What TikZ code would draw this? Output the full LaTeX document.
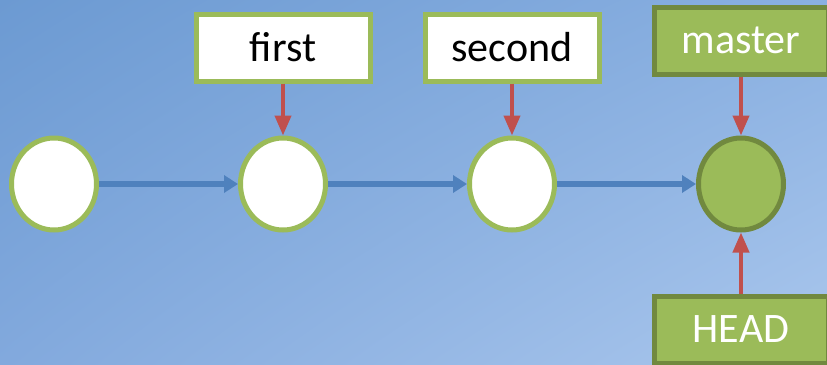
\documentclass[tikz,border=0pt]{standalone}
\usepackage{fontspec}
\setmainfont{Carlito}
\usepackage{xcolor}
\usetikzlibrary{arrows.meta, positioning, shapes.geometric, shadings}

\definecolor{bgtl}{RGB}{108,154,210}
\definecolor{bgtr}{RGB}{138,176,225}
\definecolor{bgbl}{RGB}{130,169,221}
\definecolor{bgbr}{RGB}{170,199,237}
\definecolor{okgreen}{RGB}{155,187,89}
\definecolor{darkgreen}{RGB}{113,137,63}
\definecolor{ptrred}{RGB}{192,80,77}
\definecolor{linkblue}{RGB}{79,129,189}

\begin{document}
\begin{tikzpicture}[
    x=0.5pt, y=-0.5pt,
    node distance=69.5pt,
    commit/.style={ellipse, draw=okgreen, fill=white, line width=2.5pt, minimum width=42.5pt, minimum height=46pt, inner sep=0pt},
    currentcommit/.style={commit, draw=darkgreen, fill=okgreen},
    refbox/.style={rectangle, draw=okgreen, fill=white, line width=2.5pt, minimum width=87pt, minimum height=33.5pt, inner sep=0pt, font=\fontsize{21pt}{25pt}\selectfont},
    branchbox/.style={refbox, draw=darkgreen, fill=okgreen, text=white},
    link/.style={-{Triangle[length=7pt, width=8.5pt]}, line width=2.8pt, draw=linkblue},
    pointer/.style={-{Triangle[length=10pt, width=8pt]}, line width=2pt, draw=ptrred},
]

% Background
\useasboundingbox (0,0) rectangle (827,365);
\clip (0,0) rectangle (827,365);
\shade[upper left=bgtl, upper right=bgtr, lower left=bgbl, lower right=bgbr] (0,0) rectangle (827,365);

% Commits
\node[commit] (c1) at (54,184) {};
\node[commit, right=of c1] (c2) {};
\node[commit, right=of c2] (c3) {};
\node[currentcommit, right=of c3] (c4) {};

% Links between commits
\draw[link] (c1) -- (c2);
\draw[link] (c2) -- (c3);
\draw[link] (c3) -- (c4);

% Tags and branch
\node[refbox, above=26pt of c2] (first) {first};
\node[refbox, above=26pt of c3] (second) {second};
\node[branchbox, above=29.5pt of c4] (master) {master};
\node[branchbox, below=30.5pt of c4] (head) {HEAD};

% Pointers
\draw[pointer] (first) -- (c2);
\draw[pointer] (second) -- (c3);
\draw[pointer] (master) -- (c4);
\draw[pointer] (head) -- (c4);

\end{tikzpicture}
\end{document}
